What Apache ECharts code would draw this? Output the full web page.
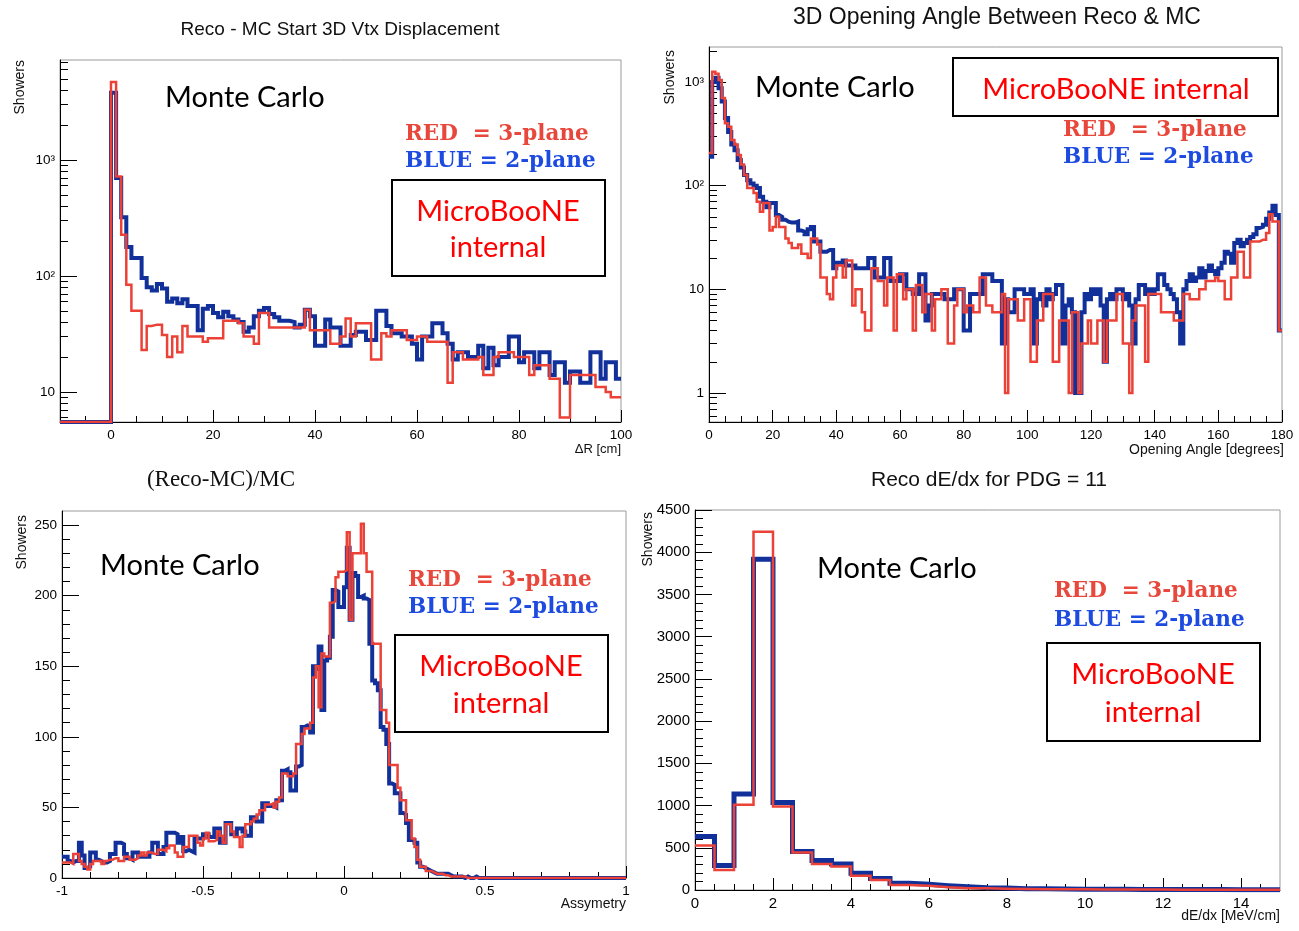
<!DOCTYPE html>
<html><head><meta charset="utf-8">
<script src="https://cdn.jsdelivr.net/npm/echarts@6/dist/echarts.min.js"></script>
<style>html,body{margin:0;padding:0;background:#fff}#c{width:1299px;height:931px}</style>
</head><body><div id="c"></div>
<script>
// ---------------- DATA ----------------
// Panel 1: Reco - MC Start 3D Vtx Displacement, bins of 1 cm from -10 to 100
const p1XMin = -10, p1BinW = 1;
const p1Blue = [0,0,0,0,0,0,0,0,0,0,
3800,700,320,178,143,143,96,80,75,85,
78,60,64,58,63,55,55,34,52,55,
48,44,49,45,42,40,33,36,45,50,
53,47,44,41,41,40,36,38,51,45,
25,25,42,36,36,25,25,31,33,33,
28,28,50,50,37,32,32,30,30,26,
19,30,30,39,39,32,26,19,22,22,
20,20,25,16,24,17,20,20,30,30,
18,22,22,16,22,22,14,18,18,12,
15,15,12,12,22,22,13,18,18,13];
const p1Red = [0,0,0,0,0,0,0,0,0,0,
4700,720,226,84,50,50,23,37,38,38,
31,20,30,22,37,30,30,30,27,29,
29,29,41,41,41,39,30,30,26,48,
48,36,36,36,36,36,36,36,51,34,
34,34,34,26,26,30,43,30,39,39,
39,19,19,32,30,34,34,34,28,28,
30,30,27,27,27,27,12,22,22,19,
19,19,20,14,14,20,22,22,22,20,
20,20,14,17,17,17,13,13,6,6,
14,14,14,14,14,11,11,10,9,9];
const p1XMajor = [0,20,40,60,80,100];
const p1XMinor = [-5,5,10,15,25,30,35,45,50,55,65,70,75,85,90,95];
const p1YMajor = [10,100,1000];
const p1YMinor = [6,7,8,9,20,30,40,50,60,70,80,90,200,300,400,500,600,700,800,900,2000,3000,4000,5000,6000,7000];

// Panel 2: 3D Opening Angle, bins of 1 degree from 0 to 180
const p2XMin = 0, p2BinW = 1;
const p2Blue = [190,1000,1100,870,650,450,330,250,220,177,
150,127,113,105,100,95,78,70,62,68,
68,52,50,47,45,44,44,45,37,36,
34,38,40,29,29,23,23,24,24,16,
18,18,19,17,17,17,16,16,16,16,
20,20,13,13,13,20,20,12,12,12,
14,14,10,10,9,9,14,14,5,7,
9,9,9,9,8,8,8,10,10,10,
4,4,9,9,9,9,14,14,14,12,
12,12,3,8,6,6,10,10,10,9,
9,10,3,8,9,7,10,8,9,11,
11,3,7,8,6,1,1,6,9,8,
10,9,10,7,2,8,9,8,10,10,
8,9,7,3,8,11,11,9,10,9,
10,14,14,11,10,9,8,6,3,10,
12,14,12,13,16,13,15,17,15,14,
16,18,23,22,18,28,30,26,28,30,
32,34,39,40,42,48,55,64,52,4];
const p2Red = [207,1257,1200,1045,700,400,370,276,250,198,
160,127,95,95,85,70,56,68,68,37,
40,50,40,40,31,28,25,25,27,22,
22,20,31,31,27,13,13,9,8,13,
17,17,13,19,19,7,10,10,6,4,
4,16,16,12,12,7,13,13,4,14,
14,8,10,10,4,11,11,6,9,9,
4,8,8,10,10,3,3,7,10,10,
6,7,7,6,6,13,13,7,7,6,
6,6,9,1,8,8,8,5,5,8,
8,2,2,5,5,9,9,9,2,2,
5,5,5,1,6,6,1,3,3,5,
3,3,5,5,2,5,5,5,9,9,
3,3,1,5,7,7,7,2,9,9,
9,9,6,6,6,6,5,5,5,9,
9,8,8,8,10,10,12,12,12,13,
12,12,8,8,13,13,23,23,13,13,
29,29,29,30,30,35,53,45,45,4];
const p2XMajor = [0,20,40,60,80,100,120,140,160,180];
const p2XMinor = [5,10,15,25,30,35,45,50,55,65,70,75,85,90,95,105,110,115,125,130,135,145,150,155,165,170,175];
const p2YMajor = [1,10,100,1000];
const p2YMinor = [0.6,0.7,0.8,0.9,2,3,4,5,6,7,8,9,20,30,40,50,60,70,80,90,200,300,400,500,600,700,800,900,2000];

// Panel 3: (Reco-MC)/MC asymmetry, bins of 0.01 from -1 to 1
const p3XMin = -1, p3BinW = 0.01;
const p3Blue = [15,15,12,11,12,12,25,16,7,8,
18,18,13,12,11,11,12,17,17,25,
25,24,17,14,13,18,18,15,15,15,
15,18,25,25,17,17,22,32,32,32,
31,25,29,19,20,19,18,28,28,28,
31,31,29,29,35,35,25,25,39,39,
31,31,35,35,33,30,30,43,43,40,
40,53,53,51,51,50,55,55,76,77,
75,62,62,79,80,107,108,108,103,150,
148,164,119,154,156,171,204,203,192,192,
206,234,183,216,214,199,200,198,197,166,
140,138,133,107,105,95,67,66,60,60,
46,45,39,27,27,25,11,8,7,6,
5,4,3,3,3,3,3,2,1,1,
1,1,0,1,0,0,1,0,0,0,
0,0,0,0,0,0,0,0,0,0,
0,0,0,0,0,0,0,0,0,0,
0,0,0,0,0,0,0,0,0,0,
0,0,0,0,0,0,0,0,0,0,
0,0,0,0,0,0,0,0,0,0];
const p3Red = [11,11,11,10,17,17,12,10,8,6,
10,12,12,12,10,12,13,13,14,14,
12,12,15,15,13,13,14,16,18,16,
18,18,17,17,20,20,19,21,23,23,
18,15,15,22,22,30,30,30,25,23,
28,32,26,26,27,33,30,25,38,38,
33,29,29,22,30,38,38,40,42,45,
48,48,52,52,53,50,54,57,74,74,
72,72,74,95,95,102,106,106,110,142,
150,121,159,157,157,195,196,213,217,217,
218,245,183,230,230,230,251,230,217,217,
166,166,166,119,119,110,80,80,80,64,
55,55,41,41,28,22,13,8,8,5,
5,4,3,3,3,2,2,1,1,1,
1,1,1,0,0,0,0,0,0,0,
0,0,0,0,0,0,0,0,0,0,
0,0,0,0,0,0,0,0,0,0,
0,0,0,0,0,0,0,0,0,0,
0,0,0,0,0,0,0,0,0,0,
0,0,0,0,0,0,0,0,0,0];
const p3XMajor = [-1,-0.5,0,0.5,1];
const p3XMinor = [-0.9,-0.8,-0.7,-0.6,-0.4,-0.3,-0.2,-0.1,0.1,0.2,0.3,0.4,0.6,0.7,0.8,0.9];
const p3YMajor = [0,50,100,150,200,250];
const p3YMinor = [10,20,30,40,60,70,80,90,110,120,130,140,160,170,180,190,210,220,230,240];

// Panel 4: Reco dE/dx for PDG = 11, bins of 0.5 MeV/cm from 0 to 15
const p4XMin = 0, p4BinW = 0.5;
const p4Blue = [633,289,1136,3918,1037,455,348,309,198,135,79,67,51,40,28,24,16,14,12,10,9,8,7,6,6,5,5,4,4,3];
const p4Red = [526,237,1009,4243,990,443,309,277,170,119,59,51,32,20,20,16,12,10,9,8,7,6,5,5,4,4,3,3,3,2];
const p4XMajor = [0,2,4,6,8,10,12,14];
const p4XMinor = [0.5,1,1.5,2.5,3,3.5,4.5,5,5.5,6.5,7,7.5,8.5,9,9.5,10.5,11,11.5,12.5,13,13.5,14.5];
const p4YMajor = [0,500,1000,1500,2000,2500,3000,3500,4000,4500];
const p4YMinor = [100,200,300,400,600,700,800,900,1100,1200,1300,1400,1600,1700,1800,1900,2100,2200,2300,2400,2600,2700,2800,2900,3100,3200,3300,3400,3600,3700,3800,3900,4100,4200,4300,4400];

// ---------------- STYLE / LAYOUT ----------------
const SANS = '"Liberation Sans", Arial, sans-serif';
const CAL = 'Lato, "Open Sans", sans-serif';
const SERIFB = '"DejaVu Serif", "Liberation Serif", serif';
const BLUE_LINE = '#12309a', RED_LINE = '#ec4137';
const RED_TXT = '#e8473b', BLUE_TXT = '#1d4be0';

const grids = [
  {left: 60, top: 60, width: 561, height: 362},
  {left: 709, top: 47, width: 573, height: 375},
  {left: 62, top: 511, width: 564, height: 367},
  {left: 695, top: 510, width: 585, height: 380}
];

function stepData(xmin, w, vals, floor) {
  const pts = vals.map((v, i) => [xmin + i * w, v > 0 ? v : floor]);
  const last = vals[vals.length - 1];
  pts.push([xmin + vals.length * w, last > 0 ? last : floor]);
  return pts;
}
const supMap = {0: '1', 1: '10', 2: '10\u00b2', 3: '10\u00b3'};
function logFmt(v) { return supMap[Math.round(Math.log10(v))]; }
function plainFmt(v) { return String(+v.toFixed(6)); }

const xAxis = [], yAxis = [], series = [];
function addPanel(gi, cfg) {
  const base = xAxis.length;
  xAxis.push({
    gridIndex: gi, type: 'value', min: cfg.xmin, max: cfg.xmax, position: 'bottom',
    axisLine: {show: true, onZero: false, lineStyle: {color: '#000', width: 1}},
    axisTick: {show: true, inside: true, length: 12, customValues: cfg.xMajor, lineStyle: {color: '#000'}},
    axisLabel: {show: true, customValues: cfg.xMajor, color: '#000', fontSize: cfg.fs, fontFamily: SANS, margin: 6, formatter: plainFmt},
    splitLine: {show: false}
  });
  xAxis.push({
    gridIndex: gi, type: 'value', min: cfg.xmin, max: cfg.xmax, position: 'bottom',
    axisLine: {show: false, onZero: false},
    axisTick: {show: true, inside: true, length: 6, customValues: cfg.xMinor, lineStyle: {color: '#000'}},
    axisLabel: {show: false}, splitLine: {show: false}
  });
  const ybase = yAxis.length;
  const yt = cfg.log ? {type: 'log', logBase: 10} : {type: 'value'};
  yAxis.push(Object.assign({
    gridIndex: gi, min: cfg.ymin, max: cfg.ymax, position: 'left',
    axisLine: {show: true, onZero: false, lineStyle: {color: '#000', width: 1}},
    axisTick: {show: true, inside: true, length: 17, customValues: cfg.yMajor, lineStyle: {color: '#000'}},
    axisLabel: {show: true, customValues: cfg.yMajor, color: '#000', fontSize: cfg.fs, fontFamily: SANS, margin: 5,
      formatter: cfg.log ? logFmt : plainFmt},
    splitLine: {show: false}
  }, yt));
  yAxis.push(Object.assign({
    gridIndex: gi, min: cfg.ymin, max: cfg.ymax, position: 'left',
    axisLine: {show: false, onZero: false},
    axisTick: {show: true, inside: true, length: 8, customValues: cfg.yMinor, lineStyle: {color: '#000'}},
    axisLabel: {show: false}, splitLine: {show: false}
  }, yt));
  const floor = cfg.log ? cfg.ymin : 0;
  [[cfg.blue, BLUE_LINE, cfg.bw, 2], [cfg.red, RED_LINE, 2.5, 3]].forEach(([vals, col, wdt, z]) => {
    series.push({
      type: 'line', step: 'end', xAxisIndex: base, yAxisIndex: ybase,
      data: stepData(cfg.x0, cfg.w, vals, floor), showSymbol: false, symbol: 'none',
      lineStyle: {color: col, width: wdt, join: 'miter'}, z: z, animation: false, silent: true
    });
  });
}
addPanel(0, {xmin: -10, xmax: 100, ymin: 5.5, ymax: 7280, log: true, x0: p1XMin, w: p1BinW, fs: 13.5,
  xMajor: p1XMajor, xMinor: p1XMinor, yMajor: p1YMajor, yMinor: p1YMinor, blue: p1Blue, red: p1Red, bw: 4});
addPanel(1, {xmin: 0, xmax: 180, ymin: 0.525, ymax: 2175, log: true, x0: p2XMin, w: p2BinW, fs: 13.5,
  xMajor: p2XMajor, xMinor: p2XMinor, yMajor: p2YMajor, yMinor: p2YMinor, blue: p2Blue, red: p2Red, bw: 4});
addPanel(2, {xmin: -1, xmax: 1, ymin: 0, ymax: 260, log: false, x0: p3XMin, w: p3BinW, fs: 13.5,
  xMajor: p3XMajor, xMinor: p3XMinor, yMajor: p3YMajor, yMinor: p3YMinor, blue: p3Blue, red: p3Red, bw: 4});
addPanel(3, {xmin: 0, xmax: 15, ymin: 0, ymax: 4500, log: false, x0: p4XMin, w: p4BinW, fs: 15,
  xMajor: p4XMajor, xMinor: p4XMinor, yMajor: p4YMajor, yMinor: p4YMinor, blue: p4Blue, red: p4Red, bw: 5});

function txt(x, y, text, font, fill, align, valign, rot) {
  return {type: 'text', x: x, y: y, rotation: rot || 0, z: 100, silent: true,
    style: {text: text, font: font, fill: fill, align: align, textAlign: align,
      verticalAlign: valign || 'middle', textVerticalAlign: valign || 'middle'}};
}
function box(x, y, w, h) {
  return {type: 'rect', shape: {x: x, y: y, width: w, height: h}, z: 90, silent: true,
    style: {fill: '#fff', stroke: '#000', lineWidth: 2}};
}
const R90 = Math.PI / 2;
const LEG = 'bold 21.5px ' + SERIFB;
const els = [
  // panel 1
  txt(340, 30, 'Reco - MC Start 3D Vtx Displacement', '19px ' + SANS, '#111', 'center'),
  txt(20, 60, 'Showers', '14px ' + SANS, '#111', 'right', 'middle', R90),
  txt(621, 449, '\u0394R [cm]', '13px ' + SANS, '#111', 'right'),
  txt(165, 98, 'Monte Carlo', '29px ' + CAL, '#000', 'left'),
  txt(405, 134, 'RED  = 3-plane', LEG, RED_TXT, 'left'),
  txt(405, 161, 'BLUE = 2-plane', LEG, BLUE_TXT, 'left'),
  box(392, 180, 213, 96),
  txt(498, 212, 'MicroBooNE', '29px ' + CAL, '#ff0000', 'center'),
  txt(498, 248, 'internal', '29px ' + CAL, '#ff0000', 'center'),
  // panel 2
  txt(997, 18, '3D Opening Angle Between Reco & MC', '23px ' + SANS, '#111', 'center'),
  txt(670, 50, 'Showers', '14px ' + SANS, '#111', 'right', 'middle', R90),
  txt(1284, 450, 'Opening Angle [degrees]', '14px ' + SANS, '#111', 'right'),
  txt(755, 88, 'Monte Carlo', '29px ' + CAL, '#000', 'left'),
  box(953, 58, 325, 58),
  txt(1116, 90, 'MicroBooNE internal', '29px ' + CAL, '#ff0000', 'center'),
  txt(1063, 130, 'RED  = 3-plane', LEG, RED_TXT, 'left'),
  txt(1063, 157, 'BLUE = 2-plane', LEG, BLUE_TXT, 'left'),
  // panel 3
  txt(221, 480, '(Reco-MC)/MC', '23px "Liberation Serif", serif', '#111', 'center'),
  txt(22, 515, 'Showers', '14px ' + SANS, '#111', 'right', 'middle', R90),
  txt(626, 904, 'Assymetry', '14px ' + SANS, '#111', 'right'),
  txt(100, 566, 'Monte Carlo', '29px ' + CAL, '#000', 'left'),
  txt(408, 580, 'RED  = 3-plane', LEG, RED_TXT, 'left'),
  txt(408, 607, 'BLUE = 2-plane', LEG, BLUE_TXT, 'left'),
  box(395, 635, 213, 97),
  txt(501, 667, 'MicroBooNE', '29px ' + CAL, '#ff0000', 'center'),
  txt(501, 704, 'internal', '29px ' + CAL, '#ff0000', 'center'),
  // panel 4
  txt(989, 480, 'Reco dE/dx for PDG = 11', '21px ' + SANS, '#111', 'center'),
  txt(648, 512, 'Showers', '14px ' + SANS, '#111', 'right', 'middle', R90),
  txt(1280, 916, 'dE/dx [MeV/cm]', '14px ' + SANS, '#111', 'right'),
  txt(817, 569, 'Monte Carlo', '29px ' + CAL, '#000', 'left'),
  txt(1054, 591, 'RED  = 3-plane', LEG, RED_TXT, 'left'),
  txt(1054, 620, 'BLUE = 2-plane', LEG, BLUE_TXT, 'left'),
  box(1047, 643, 213, 98),
  txt(1153, 675, 'MicroBooNE', '29px ' + CAL, '#ff0000', 'center'),
  txt(1153, 713, 'internal', '29px ' + CAL, '#ff0000', 'center')
];

const chart = echarts.init(document.getElementById('c'), null, {renderer: 'canvas'});
chart.setOption({
  animation: false,
  backgroundColor: '#fff',
  grid: grids.map(g => Object.assign({show: true, borderColor: '#9a9a9a', borderWidth: 1, backgroundColor: 'transparent', containLabel: false}, g)),
  xAxis: xAxis,
  yAxis: yAxis,
  series: series,
  graphic: {elements: els}
});
</script></body></html>
